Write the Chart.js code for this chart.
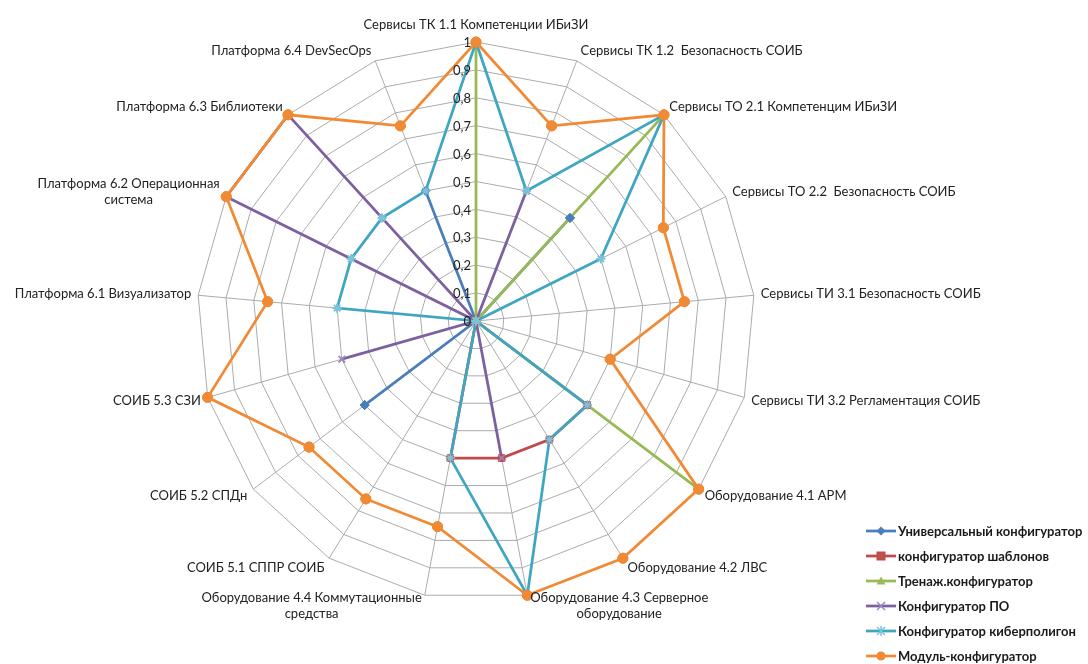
<!DOCTYPE html>
<html><head><meta charset="utf-8">
<title>Конфигураторы — лепестковая диаграмма</title>
<script src="https://cdn.jsdelivr.net/npm/chart.js"></script>
<style>
  body { margin: 0; background: #fff; font-family: Lato, "Liberation Sans", sans-serif; }
  .wrap { position: relative; width: 1088px; height: 664px; }
  #legend { position: absolute; left: 866px; top: 518px; }
  .item { display: flex; align-items: center; height: 25px; font-weight: bold; font-size: 13px; color: #1a1a1a; white-space: nowrap; }
  .item svg { margin-right: 2px; }
</style>
</head>
<body>
<div class="wrap">
  <canvas id="radar"></canvas>
  <div id="legend"></div>
</div>

<script>
// categories (spokes), clockwise from the top
const categories = [
  'Сервисы ТК 1.1 Компетенции ИБиЗИ',
  'Сервисы ТК 1.2  Безопасность СОИБ',
  'Сервисы ТО 2.1 Компетенцим ИБиЗИ',
  'Сервисы ТО 2.2  Безопасность СОИБ',
  'Сервисы ТИ 3.1 Безопасность СОИБ',
  'Сервисы ТИ 3.2 Регламентация СОИБ',
  'Оборудование 4.1 АРМ',
  'Оборудование 4.2 ЛВС',
  ['Оборудование 4.3 Серверное', 'оборудование'],
  ['Оборудование 4.4 Коммутационные', 'средства'],
  'СОИБ 5.1 СППР СОИБ',
  'СОИБ 5.2 СПДн',
  'СОИБ 5.3 СЗИ',
  'Платформа 6.1 Визуализатор',
  ['Платформа 6.2 Операционная', 'система'],
  'Платформа 6.3 Библиотеки',
  'Платформа 6.4 DevSecOps'
];

const seriesNames = [
  'Универсальный конфигуратор',
  'конфигуратор шаблонов',
  'Тренаж.конфигуратор',
  'Конфигуратор ПО',
  'Конфигуратор киберполигон',
  'Модуль-конфигуратор'
];

const universal  = [0, 0, 0.5, 0, 0, 0, 0, 0, 0, 0, 0, 0.5, 0, 0, 0, 0, 0.5];
const templates  = [0, 0, 0, 0, 0, 0, 0.5, 0.5, 0.5, 0.5, 0, 0, 0, 0, 0, 0, 0];
const trainer    = [1, 0, 1, 0, 0, 0, 1, 0, 0, 0, 0, 0, 0, 0, 0, 0, 0];
const software   = [0, 0.5, 0, 0, 0, 0, 0, 0, 0.5, 0, 0, 0, 0.5, 0, 1, 1, 0];
const cyberRange = [1, 0.5, 1, 0.5, 0, 0, 0.5, 0.5, 1, 0.5, 0, 0, 0, 0.5, 0.5, 0.5, 0.5];
const moduleConf = [1, 0.75, 1, 0.75, 0.75, 0.5, 1, 1, 1, 0.75, 0.75, 0.75, 1, 0.75, 1, 1, 0.75];

const tickValues = [0, 0.1, 0.2, 0.3, 0.4, 0.5, 0.6, 0.7, 0.8, 0.9, 1];
const tickLabels = ['0', '0,1', '0,2', '0,3', '0,4', '0,5', '0,6', '0,7', '0,8', '0,9', '1'];

const colors  = ['#4A7EBB', '#BE4B48', '#98B954', '#7D60A0', '#3FA6C2', '#F08A35'];
const markers = ['rectRot', 'rect', 'triangle', 'crossRot', 'star', 'circle'];
const markerFill = ['#4A7EBB', '#C0504D', '#9BBB59', '#9C87C2', '#7CC3D8', '#F08A35'];

const seriesValues = [universal, templates, trainer, software, cyberRange, moduleConf];

const FONT = 'Lato, "Liberation Sans", sans-serif';

// markers go on top of all lines, in series order (like the original)
const markersOnTop = {
  id: 'markersOnTop',
  afterDatasetsDraw(chart) {
    const ctx = chart.ctx;
    seriesValues.forEach((_, i) => {
      chart.getDatasetMeta(i).data.forEach(pt => pt.draw(ctx, chart.chartArea));
    });
  }
};

// axis captions and value labels, placed with the scale's own geometry
const captions = {
  id: 'captions',
  afterDraw(chart) {
    const s = chart.scales.r;
    const ctx = chart.ctx;
    ctx.save();
    ctx.fillStyle = '#222';
    ctx.font = '13px ' + FONT;

    // value labels along the first spoke
    ctx.textAlign = 'right';
    ctx.textBaseline = 'middle';
    tickValues.forEach((v, k) => {
      const d = s.getDistanceFromCenterForValue(v);
      ctx.fillText(tickLabels[k], s.xCenter - 5, s.yCenter - d + 1);
    });

    // category captions
    const lh = 16;
    categories.forEach((cat, i) => {
      const lines = Array.isArray(cat) ? cat : [cat];
      const a = s.getIndexAngle(i);
      const sn = Math.sin(a), cs = Math.cos(a);
      const p = s.getPointPosition(i, s.drawingArea + 5);
      const w = Math.max(...lines.map(l => ctx.measureText(l).width));
      const h = lines.length * lh;
      let left, cy;
      if (Math.abs(sn) < 0.1) {
        left = p.x - w / 2;
        cy = cs > 0 ? p.y - h / 2 - 4 : p.y + h / 2 + 4;
      } else {
        left = sn > 0 ? p.x + 2 : p.x - 2 - w;
        cy = p.y - cs * 6;
      }
      ctx.textAlign = 'center';
      lines.forEach((l, k) => {
        ctx.fillText(l, left + w / 2, cy - h / 2 + lh * (k + 0.5));
      });
    });
    ctx.restore();
  }
};

const datasets = seriesValues.map((vals, i) => ({
  label: seriesNames[i],
  data: vals,
  borderColor: colors[i],
  backgroundColor: markerFill[i],
  borderWidth: 2.75,
  fill: false,
  tension: 0,
  pointStyle: markers[i],
  pointRadius: markers[i] === 'circle' ? 5 : 4.5,
  pointBorderColor: markers[i] === 'crossRot' || markers[i] === 'star' ? markerFill[i] : colors[i],
  pointBorderWidth: markers[i] === 'crossRot' || markers[i] === 'star' ? 1.5 : 1,
  pointBackgroundColor: markerFill[i],
  order: seriesValues.length - 1 - i
}));

new Chart(document.getElementById('radar'), {
  type: 'radar',
  data: {
    labels: categories.map(c => Array.isArray(c) ? c.join(' ') : c),
    datasets: datasets
  },
  options: {
    responsive: true,
    maintainAspectRatio: false,
    animation: false,
    layout: { padding: { left: 76, right: 212, top: 42, bottom: 64 } },
    plugins: { legend: { display: false }, tooltip: { enabled: false } },
    scales: {
      r: {
        min: 0,
        max: 1,
        ticks: { display: false, stepSize: 0.1 },
        pointLabels: { display: false },
        grid: { color: '#ababab', lineWidth: 1 },
        angleLines: { color: '#ababab', lineWidth: 1 }
      }
    }
  },
  plugins: [markersOnTop, captions]
});

// legend on the lower right
function markerSvg(style, line, fill) {
  let m = '';
  const cx = 15, cy = 6;
  if (style === 'rectRot') m = `<polygon points="${cx},${cy-4.5} ${cx+4.5},${cy} ${cx},${cy+4.5} ${cx-4.5},${cy}" fill="${fill}"/>`;
  if (style === 'rect') m = `<rect x="${cx-4}" y="${cy-4}" width="8" height="8" fill="${fill}" stroke="${line}"/>`;
  if (style === 'triangle') m = `<polygon points="${cx},${cy-4.5} ${cx+4.5},${cy+3.5} ${cx-4.5},${cy+3.5}" fill="${fill}"/>`;
  if (style === 'crossRot') m = `<path d="M${cx-4},${cy-4}L${cx+4},${cy+4}M${cx+4},${cy-4}L${cx-4},${cy+4}" stroke="${fill}" stroke-width="1.5"/>`;
  if (style === 'star') m = `<path d="M${cx-4},${cy-4}L${cx+4},${cy+4}M${cx+4},${cy-4}L${cx-4},${cy+4}M${cx},${cy-5}L${cx},${cy+5}" stroke="${fill}" stroke-width="1.5"/>`;
  if (style === 'circle') m = `<circle cx="${cx}" cy="${cy}" r="4.5" fill="${fill}"/>`;
  return `<svg width="30" height="12"><line x1="0" y1="${cy}" x2="30" y2="${cy}" stroke="${line}" stroke-width="2.75"/>${m}</svg>`;
}

const legend = document.getElementById('legend');
seriesNames.forEach((name, i) => {
  const row = document.createElement('div');
  row.className = 'item';
  row.innerHTML = markerSvg(markers[i], colors[i], markerFill[i]);
  const span = document.createElement('span');
  span.textContent = name;
  row.appendChild(span);
  legend.appendChild(row);
});
</script>
</body></html>
